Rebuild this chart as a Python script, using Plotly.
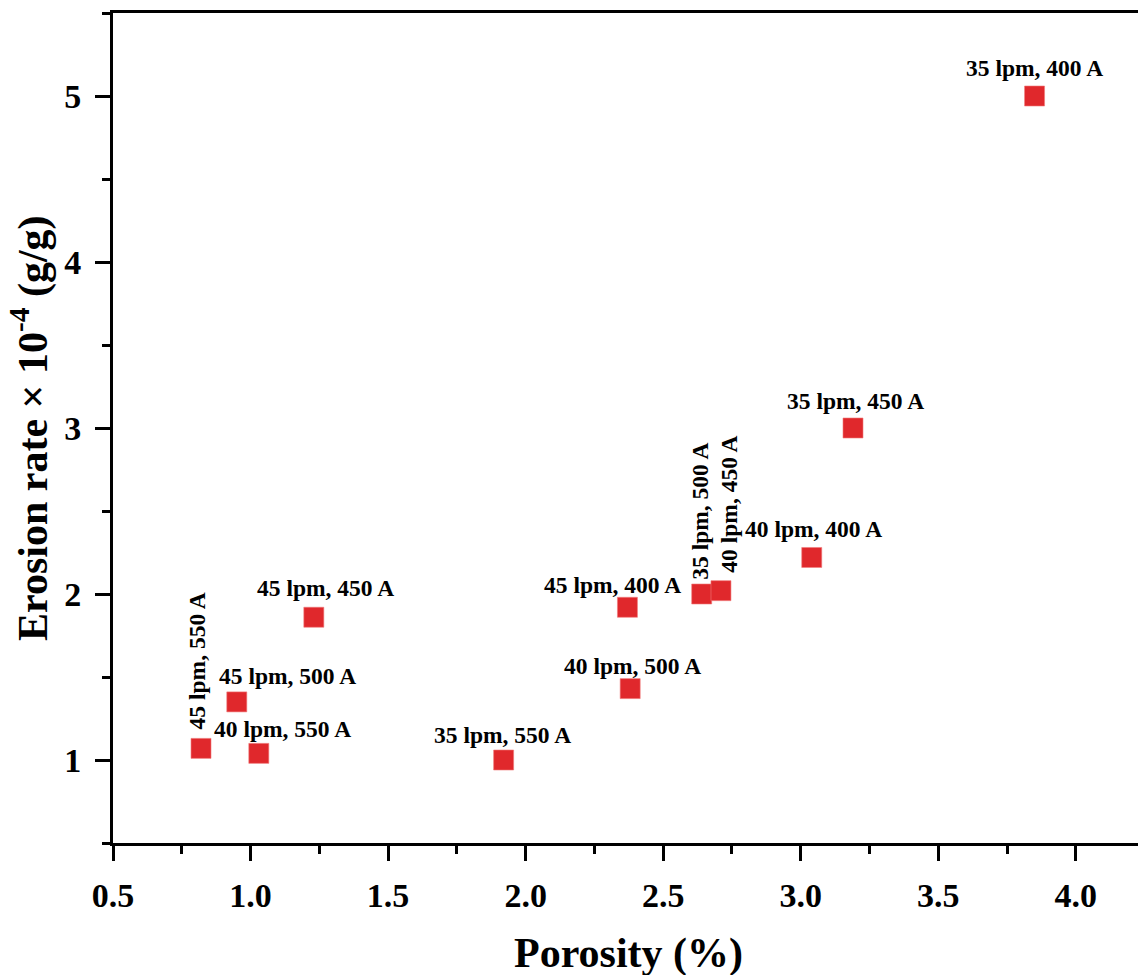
import plotly.graph_objects as go

# ---- data ----
porosity = [3.85, 3.19, 3.04, 2.64, 2.71, 2.37, 2.38, 1.92, 1.23, 0.95, 0.82, 1.03]
erosion = [5.00, 3.00, 2.22, 2.00, 2.02, 1.92, 1.43, 1.00, 1.86, 1.35, 1.07, 1.04]
labels = ["35 lpm, 400 A", "35 lpm, 450 A", "40 lpm, 400 A", "35 lpm, 500 A",
          "40 lpm, 450 A", "45 lpm, 400 A", "40 lpm, 500 A", "35 lpm, 550 A",
          "45 lpm, 450 A", "45 lpm, 500 A", "45 lpm, 550 A", "40 lpm, 550 A"]
x_ticks = [0.5, 1.0, 1.5, 2.0, 2.5, 3.0, 3.5, 4.0]
y_ticks = [1, 2, 3, 4, 5]

# ---- label placement (pixel offsets of label centre from marker, rotation) ----
label_dx = [0, 2, 2, -2, 8, -15, 2, -1, 12, 51, -4, 24]
label_dy = [28, 27, 28, 83, 87, 22, 23, 25, 29, 26, 87, 24]
label_rot = [0, 0, 0, -90, -90, 0, 0, 0, 0, 0, -90, 0]

FONT = "Times New Roman, Liberation Serif, serif"

fig = go.Figure()
fig.add_trace(go.Scatter(
    x=porosity, y=erosion, mode="markers",
    marker=dict(symbol="square", size=20, color="#E0282C",
                line=dict(width=0.6, color="#F07A7A")),
    showlegend=False, hoverinfo="skip"))

for xv, yv, t, dx, dy, rot in zip(porosity, erosion, labels, label_dx, label_dy, label_rot):
    fig.add_annotation(x=xv, y=yv, xref="x", yref="y", text="<b>%s</b>" % t,
                       showarrow=False, xanchor="center", yanchor="middle",
                       xshift=dx, yshift=dy, textangle=rot,
                       font=dict(family=FONT, size=23.5, color="black"))

fig.add_annotation(x=0.503, y=0, xref="paper", yref="paper", text="<b>Porosity (%)</b>",
                   showarrow=False, xanchor="center", yanchor="middle", yshift=-110,
                   font=dict(family=FONT, size=42, color="black"))
fig.add_annotation(x=0, y=0.5, xref="paper", yref="paper",
                   text="<b>Erosion rate × 10<sup>-4</sup> (g/g)</b>",
                   showarrow=False, xanchor="center", yanchor="middle", xshift=-83,
                   textangle=-90, font=dict(family=FONT, size=42, color="black"))

axis_common = dict(showgrid=False, zeroline=False, showline=True, linecolor="black",
                   linewidth=3, ticks="outside", ticklen=15, tickwidth=3,
                   tickcolor="black",
                   tickfont=dict(family=FONT, size=34, color="black"))

fig.update_xaxes(range=[0.5, 4.226], tickvals=x_ticks,
                 ticktext=["<b>%.1f</b>" % v for v in x_ticks],
                 mirror=True, ticklabelstandoff=5,
                 minor=dict(dtick=0.25, tick0=0.5, ticks="outside", ticklen=8,
                            tickwidth=3, tickcolor="black"),
                 **axis_common)
fig.update_yaxes(range=[0.5, 5.5], tickvals=y_ticks,
                 ticktext=["<b>%d</b>" % v for v in y_ticks],
                 mirror=False, ticklabelstandoff=7,
                 minor=dict(dtick=0.5, tick0=0.5, ticks="outside", ticklen=8,
                            tickwidth=3, tickcolor="black"),
                 **axis_common)

fig.update_layout(width=1138, height=975, margin=dict(l=113, r=0, t=13, b=132),
                  paper_bgcolor="white", plot_bgcolor="white",
                  font=dict(family=FONT, color="black"))

fig.write_html("out.html")
